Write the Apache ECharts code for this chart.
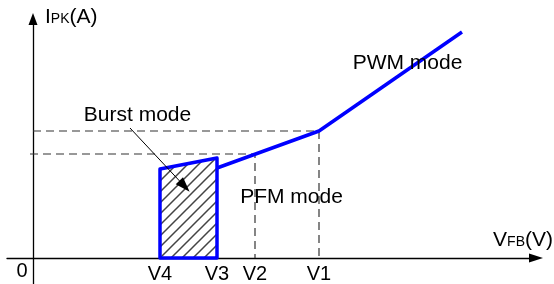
<!DOCTYPE html>
<html>
<head>
<meta charset="utf-8">
<script src="https://cdn.jsdelivr.net/npm/echarts@6/dist/echarts.min.js"></script>
<style>
  html, body { margin: 0; padding: 0; background: #fff; }
  #chart { width: 554px; height: 284px; }
</style>
</head>
<body>
<div id="chart"></div>
<script>
// 横轴刻度
const tickNames = ['V4', 'V3', 'V2', 'V1'];
const tickValues = [2.54, 3.68, 4.44, 5.72];
// 峰值电流曲线 (PFM -> PWM)
const ipkCurve = [[3.68, 3.6], [5.72, 5.08], [8.58, 9.04]];
// Burst 区域: 左右边界与顶边高度
const burstX = [2.54, 3.68];
const burstTop = [3.56, 4.0];
// 虚线参考线
const guideV1 = [[0, 5.08], [5.72, 5.08], [5.72, 0]];
const guideV2 = [[-0.06, 4.16], [4.44, 4.16], [4.44, 0]];
// 文字标注 [x, y, text]
const notes = [
  [7.49, 7.8, 'PWM mode'],
  [5.17, 2.44, 'PFM mode'],
  [2.09, 5.72, 'Burst mode']
];
// 指示箭头 (起点, 终点)
const burstArrow = [[1.94, 5.2], [3.03, 2.87]];

const font = 'Liberation Sans, Arial, sans-serif';

// 斜线填充
const hatch = document.createElement('canvas');
hatch.width = 11;
hatch.height = 11;
const hctx = hatch.getContext('2d');
hctx.strokeStyle = '#444';
hctx.lineWidth = 1.5;
hctx.beginPath();
hctx.moveTo(-2, 13); hctx.lineTo(13, -2);
hctx.moveTo(-2, 2); hctx.lineTo(2, -2);
hctx.moveTo(9, 13); hctx.lineTo(13, 9);
hctx.stroke();

const chart = echarts.init(document.getElementById('chart'));

const dashStyle = { color: '#333', width: 1.2, type: [8, 5] };
const nameRich = {
  b: { fontSize: 21, fontFamily: font, color: '#000', verticalAlign: 'bottom', lineHeight: 21 },
  s: { fontSize: 14, fontFamily: font, color: '#000', verticalAlign: 'bottom', lineHeight: 14, padding: [0, 0, 1, 0] }
};
const textStyle = { color: '#000', fontFamily: font, textBorderWidth: 0, opacity: 1 };

chart.setOption({
  animation: false,
  grid: { left: 7, right: 18, top: 19, bottom: 0, outerBoundsMode: 'none', containLabel: false },
  xAxis: {
    type: 'value',
    min: -0.52,
    max: 10.06,
    splitLine: { show: false },
    axisTick: { show: false },
    axisLabel: { show: false },
    axisLine: {
      onZero: true,
      lineStyle: { color: '#000', width: 1.3 },
      symbol: ['none', 'triangle'],
      symbolSize: [9, 14]
    },
    name: '{b|V}{s|FB}{b|(V)}',
    nameLocation: 'end',
    nameGap: 17,
    nameTextStyle: {
      align: 'right',
      verticalAlign: 'middle',
      padding: [0, 0, 36, 0],
      rich: nameRich
    }
  },
  yAxis: {
    type: 'value',
    min: -1.04,
    max: 9.56,
    splitLine: { show: false },
    axisTick: { show: false },
    axisLabel: { show: false },
    axisLine: {
      onZero: true,
      lineStyle: { color: '#000', width: 1.3 },
      symbol: ['none', 'triangle'],
      symbolSize: [9, 12]
    },
    name: '{b|I}{s|PK}{b|(A)}',
    nameLocation: 'end',
    nameGap: 2,
    nameTextStyle: {
      align: 'left',
      verticalAlign: 'middle',
      padding: [0, 0, 0, 12],
      rich: nameRich
    }
  },
  series: [
    {
      type: 'line',
      data: guideV1,
      symbol: 'none',
      lineStyle: dashStyle,
      z: 1
    },
    {
      type: 'line',
      data: guideV2,
      symbol: 'none',
      lineStyle: dashStyle,
      z: 1
    },
    {
      type: 'custom',
      data: [0],
      z: 2,
      renderItem: (params, api) => {
        const pts = [
          [burstX[0], 0],
          [burstX[0], burstTop[0]],
          [burstX[1], burstTop[1]],
          [burstX[1], 0]
        ].map((p) => api.coord(p));
        return {
          type: 'polygon',
          shape: { points: pts },
          style: {
            fill: { image: hatch, repeat: 'repeat' },
            stroke: '#0000ff',
            lineWidth: 3.5,
            lineJoin: 'round'
          }
        };
      }
    },
    {
      type: 'line',
      data: ipkCurve,
      symbol: 'none',
      lineStyle: { color: '#0000ff', width: 3.5 },
      z: 3,
      markLine: {
        silent: true,
        symbol: ['none', 'triangle'],
        symbolSize: [10, 15],
        label: { show: false },
        lineStyle: { color: '#000', width: 1, type: 'solid' },
        data: [[{ coord: burstArrow[0] }, { coord: burstArrow[1] }]]
      }
    },
    {
      // 模式标注
      type: 'scatter',
      data: notes,
      symbolSize: 0,
      itemStyle: { opacity: 1 },
      z: 5,
      label: {
        show: true,
        position: 'inside',
        formatter: (p) => p.data[2],
        fontSize: 21,
        ...textStyle
      }
    },
    {
      // 横轴刻度文字
      type: 'scatter',
      data: tickValues.map((v, i) => ({ value: [v, 0], name: tickNames[i] })),
      symbolSize: 0,
      itemStyle: { opacity: 1 },
      z: 5,
      label: {
        show: true,
        position: 'bottom',
        distance: 6,
        formatter: '{b}',
        fontSize: 20,
        ...textStyle
      }
    },
    {
      // 原点
      type: 'scatter',
      data: [{ value: [0, 0], name: '0' }],
      symbolSize: 0,
      itemStyle: { opacity: 1 },
      z: 5,
      label: {
        show: true,
        position: 'bottom',
        distance: 3,
        offset: [-11, 0],
        formatter: '{b}',
        fontSize: 20,
        ...textStyle
      }
    }
  ]
});
</script>
</body>
</html>
